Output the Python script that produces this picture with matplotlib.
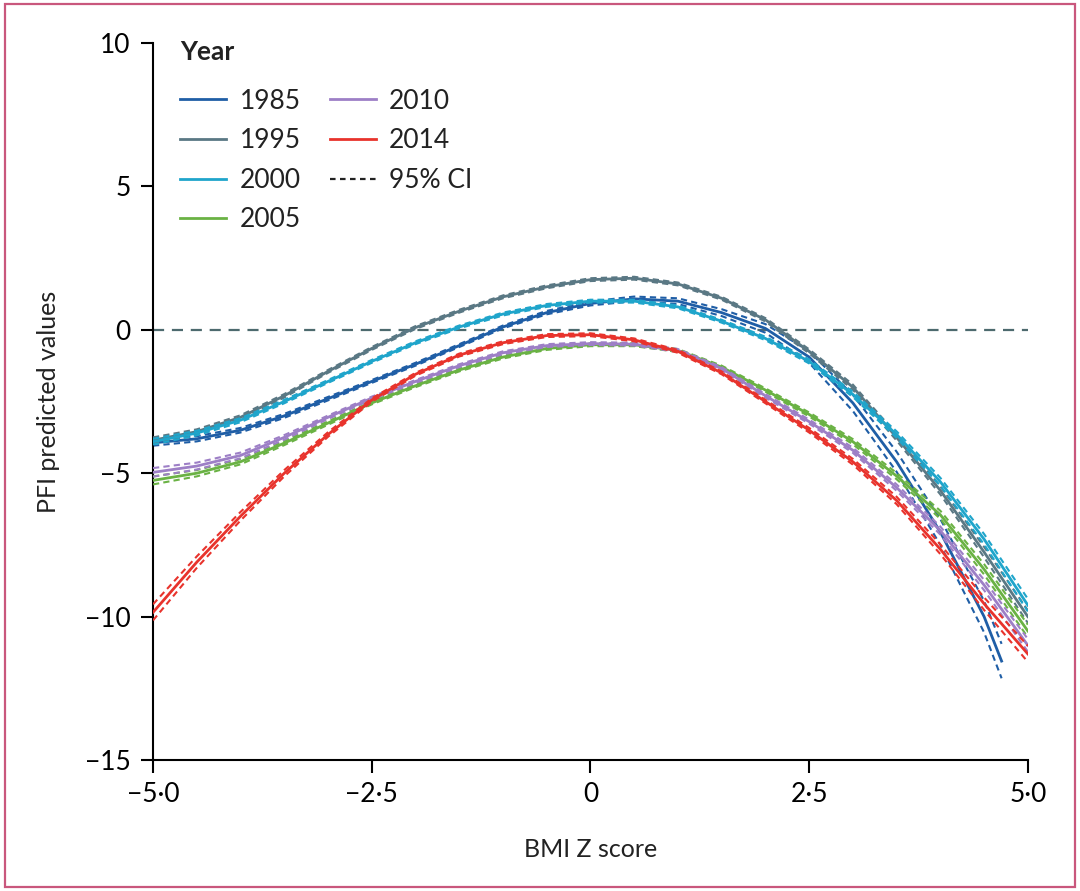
import matplotlib
matplotlib.use('Agg')
from matplotlib import pyplot as plt
from matplotlib.lines import Line2D
from matplotlib.patches import Rectangle

plt.rcParams['font.family'] = ['Lato', 'DejaVu Sans']

# BMI Z score grid
x_pts = [-5.0, -4.5, -4.0, -3.5, -3.0, -2.5, -2.0, -1.5, -1.0, -0.5, 0.0,
         0.5, 1.0, 1.5, 2.0, 2.5, 3.0, 3.5, 4.0, 4.5, 5.0]
x_1985 = [-5.0, -4.5, -4.0, -3.5, -3.0, -2.5, -2.0, -1.5, -1.0, -0.5, 0.0,
          0.5, 1.0, 1.5, 2.0, 2.5, 3.0, 3.5, 4.0, 4.5, 4.7]

years = ['1985', '1995', '2000', '2005', '2010', '2014']
colors = ['#1f5ea6', '#5a7884', '#1fa5cb', '#6ab244', '#9d7fc6', '#e8332c']

y_1985 = [-3.94, -3.8, -3.5, -3.0, -2.4, -1.8, -1.2, -0.55, 0.1, 0.6, 0.92,
          1.08, 1.0, 0.6, 0.05, -0.95, -2.55, -4.6, -7.05, -10.0, -11.55]
y_1995 = [-3.85, -3.55, -3.05, -2.3, -1.45, -0.65, 0.08, 0.65, 1.15, 1.5, 1.75,
          1.8, 1.6, 1.1, 0.35, -0.75, -2.0, -3.75, -5.6, -7.75, -10.0]
y_2000 = [-3.9, -3.6, -3.15, -2.5, -1.8, -1.1, -0.45, 0.1, 0.55, 0.85, 1.0,
          1.0, 0.8, 0.3, -0.3, -1.1, -2.25, -3.65, -5.3, -7.3, -9.6]
y_2005 = [-5.25, -5.0, -4.6, -3.95, -3.25, -2.55, -1.95, -1.4, -0.95, -0.65, -0.52,
          -0.52, -0.72, -1.3, -2.1, -2.95, -3.9, -5.1, -6.45, -8.35, -10.5]
y_2010 = [-4.97, -4.75, -4.38, -3.75, -3.05, -2.38, -1.8, -1.25, -0.8, -0.55, -0.48,
          -0.5, -0.72, -1.35, -2.3, -3.2, -4.2, -5.5, -7.0, -8.9, -11.0]
y_2014 = [-9.85, -8.1, -6.5, -5.0, -3.65, -2.45, -1.55, -0.88, -0.45, -0.2, -0.17,
          -0.35, -0.75, -1.5, -2.5, -3.5, -4.6, -5.95, -7.65, -9.55, -11.3]

# 95% CI half widths
ci_1985 = [0.1, 0.09, 0.08, 0.07, 0.06, 0.05, 0.05, 0.05, 0.05, 0.06, 0.07,
           0.08, 0.1, 0.12, 0.15, 0.2, 0.28, 0.35, 0.45, 0.55, 0.6]
ci_1995 = [0.1, 0.08, 0.07, 0.06, 0.05, 0.05, 0.05, 0.05, 0.05, 0.05, 0.05,
           0.05, 0.05, 0.05, 0.06, 0.07, 0.09, 0.11, 0.14, 0.18, 0.22]
ci_2000 = [0.1, 0.08, 0.07, 0.06, 0.05, 0.05, 0.05, 0.05, 0.05, 0.05, 0.05,
           0.05, 0.05, 0.05, 0.06, 0.07, 0.09, 0.11, 0.14, 0.18, 0.22]
ci_2005 = [0.14, 0.11, 0.09, 0.07, 0.06, 0.05, 0.05, 0.05, 0.05, 0.05, 0.05,
           0.05, 0.05, 0.05, 0.06, 0.07, 0.09, 0.11, 0.14, 0.18, 0.22]
ci_2010 = [0.15, 0.12, 0.1, 0.08, 0.06, 0.05, 0.05, 0.05, 0.05, 0.05, 0.05,
           0.05, 0.05, 0.05, 0.06, 0.07, 0.09, 0.11, 0.14, 0.18, 0.22]
ci_2014 = [0.28, 0.2, 0.15, 0.11, 0.08, 0.06, 0.05, 0.05, 0.05, 0.05, 0.05,
           0.05, 0.05, 0.05, 0.06, 0.08, 0.1, 0.13, 0.17, 0.22, 0.28]

xs = [x_1985, x_pts, x_pts, x_pts, x_pts, x_pts]
ys = [y_1985, y_1995, y_2000, y_2005, y_2010, y_2014]
cis = [ci_1985, ci_1995, ci_2000, ci_2005, ci_2010, ci_2014]

x_ticks = [-5.0, -2.5, 0, 2.5, 5.0]
x_ticklabels = ['\u22125\u00b70', '\u22122\u00b75', '0', '2\u00b75', '5\u00b70']
y_ticks = [10, 5, 0, -5, -10, -15]
y_ticklabels = ['10', '5', '0', '\u22125', '\u221210', '\u221215']

fig = plt.figure(figsize=(10.8, 8.91), dpi=100)
ax = fig.add_axes([0.1417, 0.147, 0.81, 0.8047])

ax.plot([-5, 5], [0, 0], color='#4d6a6e', lw=1.6, dashes=(5, 3.5), zorder=1)

for i in range(len(years)):
    x = xs[i]
    y = ys[i]
    c = cis[i]
    lo = [a - b for a, b in zip(y, c)]
    hi = [a + b for a, b in zip(y, c)]
    ax.plot(x, lo, color=colors[i], lw=1.5, dashes=(3, 2), zorder=2 + i)
    ax.plot(x, hi, color=colors[i], lw=1.5, dashes=(3, 2), zorder=2 + i)
    ax.plot(x, y, color=colors[i], lw=2.0, zorder=2 + i)

ax.set_xlim(-5, 5)
ax.set_ylim(-15, 10)
ax.set_xticks(x_ticks)
ax.set_xticklabels(x_ticklabels)
ax.set_yticks(y_ticks)
ax.set_yticklabels(y_ticklabels)
ax.tick_params(direction='out', length=9, width=1.5, labelsize=19, pad=7)
for s in ['top', 'right']:
    ax.spines[s].set_visible(False)
for s in ['left', 'bottom']:
    ax.spines[s].set_linewidth(1.5)
    ax.spines[s].set_clip_on(False)

ax.set_xlabel('BMI Z score', fontsize=18, labelpad=22, color='#222222')
ax.set_ylabel('PFI predicted values', fontsize=18, labelpad=18, color='#222222')

# legend title drawn on its own
ax.text(0.031, 0.987, 'Year', transform=ax.transAxes, fontsize=19,
        fontweight='bold', va='center', ha='left', color='#222222')

handles = [Line2D([0], [0], color=c, lw=2) for c in colors]
handles.append(Line2D([0], [0], color='#222222', lw=1.6, dashes=(2.5, 2)))
labels = years + ['95% CI']
leg = ax.legend(handles, labels, ncol=2, frameon=False,
                loc='upper left', bbox_to_anchor=(0.019, 0.951), fontsize=19,
                handlelength=1.75, handletextpad=0.5, columnspacing=1.1,
                labelspacing=0.55, borderaxespad=0)
for t in leg.get_texts():
    t.set_color('#222222')

fig.patches.append(Rectangle((0.005, 0.005), 0.99, 0.99, transform=fig.transFigure,
                             fill=False, edgecolor='#c9577d', lw=1.6))

fig.savefig('out.png', dpi=100)
